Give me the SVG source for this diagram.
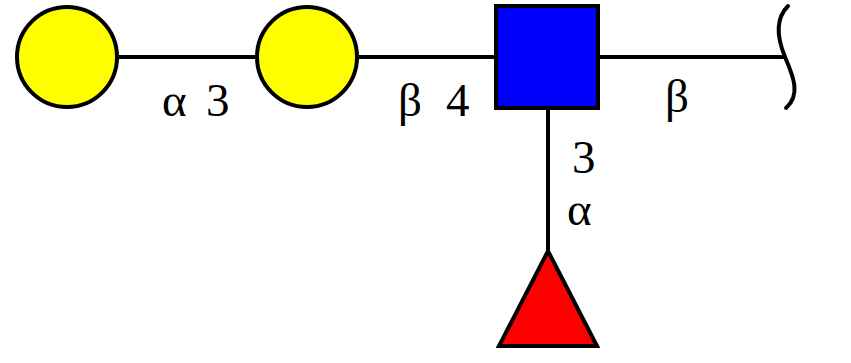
<svg xmlns="http://www.w3.org/2000/svg" width="851" height="363" viewBox="0 0 851 363">
<style>
.edge{stroke:#000;stroke-width:4;fill:none}
.node{stroke:#000;stroke-width:4}
text{font-family:'Liberation Serif','Times New Roman',serif;font-size:47px;fill:#000}
</style>
<rect width="851" height="363" fill="#fff"/>
<g id="connectors">
<line class="edge" x1="67" y1="57" x2="785" y2="57"/>
<line class="edge" x1="548" y1="57" x2="548" y2="250"/>
<path class="edge" d="M788,6 C774,20 778,40 785,57 C792,74 802,94 786,108" stroke-linecap="round"/>
</g>
<g id="gal1"><circle class="node" cx="67" cy="57" r="50" fill="#ffff00"/></g>
<g id="gal2"><circle class="node" cx="307" cy="57" r="50" fill="#ffff00"/></g>
<g id="glcnac"><rect class="node" x="496" y="6" width="102" height="102" fill="#0000ff"/></g>
<g id="fuc"><polygon class="node" points="548,251 499,346 597,346" fill="#ff0000" stroke-linejoin="miter"/></g>
<g id="labels">
<text x="162" y="116">α</text><text x="206" y="116">3</text>
<text x="398" y="116">β</text><text x="446" y="116">4</text>
<text x="665" y="112">β</text>
<text x="572" y="173">3</text>
<text x="567" y="225">α</text>
</g>
</svg>
